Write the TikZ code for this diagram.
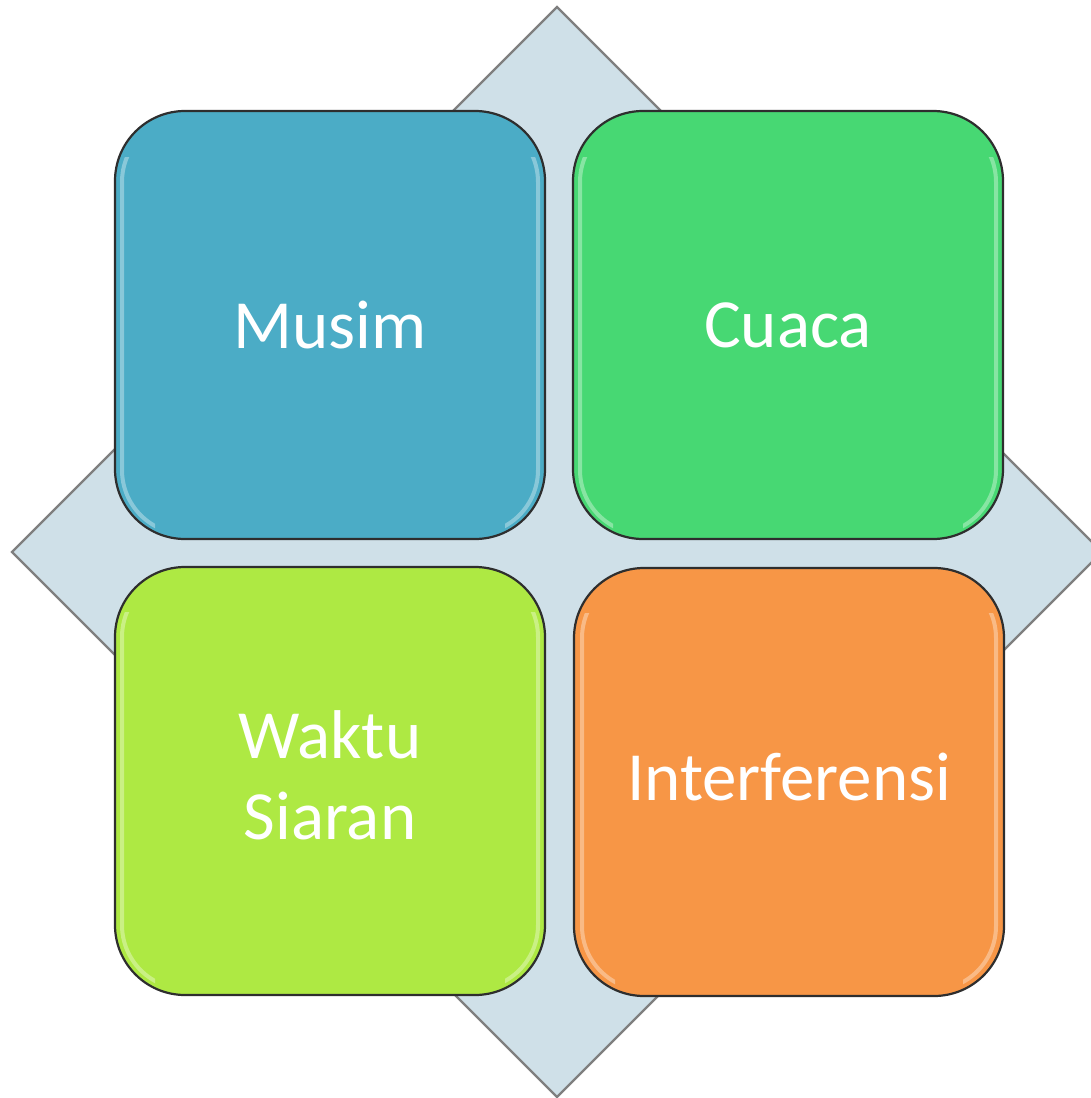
\documentclass[tikz,border=0pt]{standalone}
\usepackage{fontspec}
\setmainfont{Carlito}
\definecolor{diamfill}{HTML}{CFE0E8}
\definecolor{diamline}{HTML}{7F7F7F}
\definecolor{cmusim}{HTML}{4BACC6}
\definecolor{ccuaca}{HTML}{47D873}
\definecolor{cwaktu}{HTML}{AEE943}
\definecolor{cinter}{HTML}{F79646}
\definecolor{boxline}{HTML}{2E2E2E}
\tikzset{
  tile/.style={draw=boxline, line width=2.2pt, rounded corners=70pt,
    minimum width=430pt, minimum height=428pt, inner sep=0pt,
    text=white, align=center,
    font=\fontsize{69}{81}\selectfont},
  gloss/.style={draw=white, draw opacity=0.35, line width=4pt, rounded corners=64pt}
}
\newcommand{\glossbox}[4]{%
  \begin{scope}
    \clip (#1,#2+45) rectangle (#1+40,#4);
    \draw[gloss] (#1+7,#2+6) rectangle (#3-7,#4-6);
  \end{scope}
  \begin{scope}
    \clip (#3-40,#2+45) rectangle (#3,#4);
    \draw[gloss] (#1+7,#2+6) rectangle (#3-7,#4-6);
  \end{scope}}
\begin{document}
\begin{tikzpicture}[x=1pt,y=-1pt]
\useasboundingbox (0,0) rectangle (1091,1098);
\clip (0,0) rectangle (1091,1098);
\draw[fill=diamfill, draw=diamline, line width=2.2pt, line join=miter]
  (557,7) -- (1102,552) -- (557,1097) -- (12,552) -- cycle;
\node[tile, fill=cmusim] (musim) at (330,325) {Musim};
\node[tile, fill=ccuaca] (cuaca) at (788,325) {Cuaca};
\node[tile, fill=cwaktu] (waktu) at (330,781) {};
\node[text=white, align=center, font=\fontsize{69}{81}\selectfont] (waktutext) at (330,775) {Waktu\\Siaran};
\node[tile, fill=cinter] (inter) at (789,782) {};
\node[text=white, font=\fontsize{69}{81}\selectfont] (intertext) at (789,777) {Interferensi};
\glossbox{115}{112}{545}{540}
\glossbox{573}{112}{1003}{540}
\glossbox{115}{567}{545}{995}
\glossbox{575}{568}{1003}{996}
\end{tikzpicture}
\end{document}
